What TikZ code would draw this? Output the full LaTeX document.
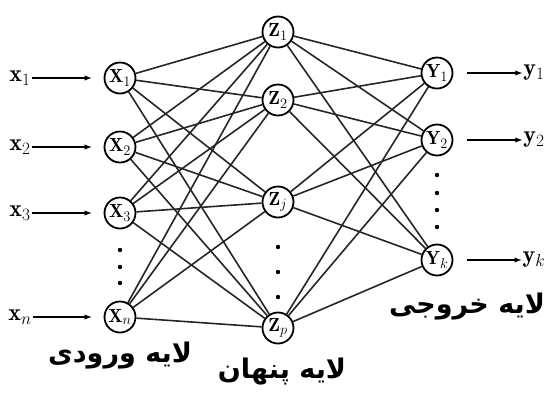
\documentclass[tikz,border=0pt]{standalone}
\usepackage{fontspec}
\newfontfamily\arabicfont[Script=Arabic]{DejaVu Sans}
\TeXXeTstate=1
\tikzset{
  neuron/.style={draw,circle,line width=1.8pt,minimum size=31pt,inner sep=0pt,
    font=\fontsize{19}{19}\selectfont},
  signal/.style={inner sep=1pt,font=\fontsize{24}{24}\selectfont},
  link/.style={line width=1.6pt,black!85},
  feed/.style={-latex,line width=1.4pt},
  layername/.style={font=\fontsize{27}{30}\selectfont\arabicfont\bfseries},
}
\begin{document}
\begin{tikzpicture}[x=1pt,y=-1pt]
      \useasboundingbox (0,0) rectangle (549,392);
      % neurons
      \draw
        (120,78) node[neuron] (x1){$\mathbf{X}_1$}
        (120,147) node[neuron] (x2){$\mathbf{X}_2$}
        (120,213) node[neuron] (x3){$\mathbf{X}_3$}
        (120,317) node[neuron] (xn){$\mathbf{X}_n$}
        (278,32) node[neuron] (z1){$\mathbf{Z}_1$}
        (278,100) node[neuron] (z2){$\mathbf{Z}_2$}
        (278,202) node[neuron] (zj){$\mathbf{Z}_j$}
        (278,328) node[neuron] (zp){$\mathbf{Z}_p$}
        (437,73) node[neuron] (y1){$\mathbf{Y}_1$}
        (437,140) node[neuron] (y2){$\mathbf{Y}_2$}
        (437,260) node[neuron] (yk){$\mathbf{Y}_k$};
      % inputs and outputs
      \draw
        (20,78) node[signal] (in1){$\mathbf{x}_1$}
        (20,147) node[signal] (in2){$\mathbf{x}_2$}
        (20,213) node[signal] (in3){$\mathbf{x}_3$}
        (20,317) node[signal] (inn){$\mathbf{x}_n$}
        (534,73) node[signal] (out1){$\mathbf{y}_1$}
        (534,140) node[signal] (out2){$\mathbf{y}_2$}
        (534,260) node[signal] (outk){$\mathbf{y}_k$};
      \begin{scope}[feed]
        \draw[shorten >=12pt] (in1) to (x1);
        \draw[shorten >=12pt] (in2) to (x2);
        \draw[shorten >=12pt] (in3) to (x3);
        \draw[shorten >=12pt] (inn) to (xn);
        \draw[shorten <=14pt] (y1) to (out1);
        \draw[shorten <=14pt] (y2) to (out2);
        \draw[shorten <=14pt] (yk) to (outk);
      \end{scope}
      \begin{scope}[link]
        \draw (x1) to (z1);
        \draw (x1) to (z2);
        \draw (x1) to (zj);
        \draw (x1) to (zp);
        \draw (x2) to (z1);
        \draw (x2) to (z2);
        \draw (x2) to (zj);
        \draw (x2) to (zp);
        \draw (x3) to (z1);
        \draw (x3) to (z2);
        \draw (x3) to (zj);
        \draw (x3) to (zp);
        \draw (xn) to (z1);
        \draw (xn) to (z2);
        \draw (xn) to (zj);
        \draw (xn) to (zp);
        \draw (z1) to (y1);
        \draw (z1) to (y2);
        \draw (z1) to (yk);
        \draw (z2) to (y1);
        \draw (z2) to (y2);
        \draw (z2) to (yk);
        \draw (zj) to (y1);
        \draw (zj) to (y2);
        \draw (zj) to (yk);
        \draw (zp) to (y1);
        \draw (zp) to (y2);
        \draw (zp) to (yk);
      \end{scope}
      % dots
      \foreach \d in {250,267,283} \fill (120,\d) circle (2.2);
      \foreach \d in {247,272,297} \fill (278,\d) circle (2.2);
      \foreach \d in {175,193,210,227} \fill (437,\d) circle (2.2);
      % layer names
      \node[layername] (inname) at (120,356) {\beginR لایه ورودی\endR};
      \node[layername] (hidname) at (282,372) {\beginR لایه پنهان\endR};
      \node[layername] (outname) at (467,307) {\beginR لایه خروجی\endR};
    \end{tikzpicture}
\end{document}
